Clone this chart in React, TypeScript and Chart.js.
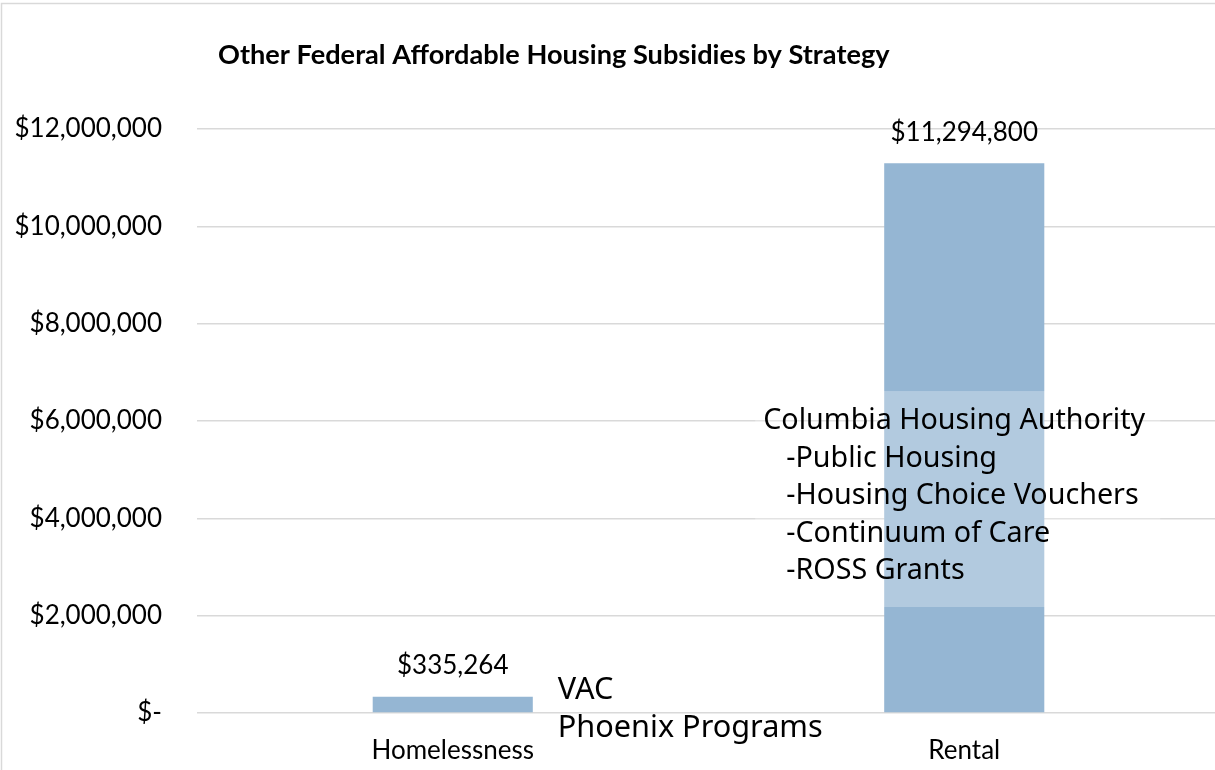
import React, { useEffect, useRef } from "react";
import { Chart, registerables } from "chart.js";

Chart.register(...registerables);

const title = "Other Federal Affordable Housing Subsidies by Strategy";
const categories = ["Homelessness", "Rental"];
const values = [335264, 11294800];
const yMin = 0;
const yMax = 12000000;
const yStep = 2000000;
const rentalNoteLines = [
  "Columbia Housing Authority",
  "-Public Housing",
  "-Housing Choice Vouchers",
  "-Continuum of Care",
  "-ROSS Grants",
];
const rentalNoteTop = 6000000;
const rentalBoxRange = [6616000, 2178000];
const homelessNoteLines = ["VAC", "Phoenix Programs"];

const BAR_COLOR = "rgb(149,182,211)";
const GRID = "#d9d9d9";
const AXIS_FONT = "Lato, 'Liberation Sans', sans-serif";
const NOTE_FONT = "'Noto Sans', 'DejaVu Sans', sans-serif";
const AXIS_SIZE = 26;

function fitSize(ctx: CanvasRenderingContext2D, text: string, weight: string, family: string, target: number) {
  ctx.font = `${weight} 100px ${family}`;
  const w = ctx.measureText(text).width;
  return (100 * target) / w;
}

const fmtMoney = (v: number) => (v === 0 ? "$-" : "$" + Math.round(v).toLocaleString("en-US"));

export default function App() {
  const ref = useRef<HTMLCanvasElement | null>(null);

  useEffect(() => {
    document.body.style.margin = "0";
    const canvas = ref.current!;
    const decor = {
      id: "decor",
      beforeDraw(chart: any) {
        const ctx = chart.ctx;
        ctx.save();
        ctx.fillStyle = "#fff";
        ctx.fillRect(0, 0, chart.width, chart.height);
        ctx.strokeStyle = GRID;
        ctx.lineWidth = 1.5;
        ctx.strokeRect(1.5, 3.5, chart.width + 20, chart.height + 20);
        // title
        const ts = fitSize(ctx, title, "bold", AXIS_FONT, 672);
        ctx.font = `bold ${ts}px ${AXIS_FONT}`;
        ctx.fillStyle = "#000";
        ctx.textBaseline = "middle";
        ctx.textAlign = "left";
        ctx.fillText(title, 218, 55);
        ctx.restore();
      },
      afterDatasetsDraw(chart: any) {
        const ctx = chart.ctx;
        const xs = chart.scales.x;
        const ys = chart.scales.y;
        const meta = chart.getDatasetMeta(0);
        ctx.save();
        // value labels
        ctx.font = `${AXIS_SIZE}px ${AXIS_FONT}`;
        ctx.fillStyle = "#000";
        ctx.textAlign = "center";
        ctx.textBaseline = "middle";
        meta.data.forEach((bar: any, i: number) => {
          ctx.fillText(fmtMoney(values[i]), bar.x, bar.y - 31);
        });
        // rental note box
        const cx = xs.getPixelForValue(1);
        const by0 = ys.getPixelForValue(rentalBoxRange[0]);
        const by1 = ys.getPixelForValue(rentalBoxRange[1]);
        ctx.fillStyle = "rgba(255,255,255,0.28)";
        ctx.fillRect(cx - 209, by0, 405, by1 - by0);
        // rental note text
        const ns = fitSize(ctx, rentalNoteLines[0], "normal", NOTE_FONT, 382);
        ctx.font = `${ns}px ${NOTE_FONT}`;
        ctx.fillStyle = "#000";
        ctx.textAlign = "left";
        const ty = ys.getPixelForValue(rentalNoteTop);
        rentalNoteLines.forEach((t, i) => {
          ctx.fillText(t, i === 0 ? cx - 201 : cx - 178, ty + i * 37.5);
        });
        // homelessness note
        const hs = fitSize(ctx, homelessNoteLines[1], "normal", NOTE_FONT, 265);
        ctx.font = `${hs}px ${NOTE_FONT}`;
        const hx = xs.getPixelForValue(0);
        homelessNoteLines.forEach((t, i) => {
          ctx.fillText(t, hx + 105, ys.getPixelForValue(0) - 23 + i * 38);
        });
        ctx.restore();
      },
    };

    const chart = new Chart(canvas, {
      type: "bar",
      data: {
        labels: categories,
        datasets: [
          {
            data: values,
            backgroundColor: BAR_COLOR,
            borderWidth: 0,
            categoryPercentage: 0.626,
            barPercentage: 0.5,
          },
        ],
      },
      options: {
        responsive: false,
        animation: false,
        devicePixelRatio: 1,
        layout: { padding: { left: 0, right: 5, top: 129, bottom: 0 } },
        plugins: {
          legend: { display: false },
          title: { display: false },
          tooltip: { enabled: false },
        },
        scales: {
          x: {
            grid: { display: false, drawTicks: false },
            border: { display: false },
            ticks: {
              color: "#000",
              font: { family: AXIS_FONT, size: AXIS_SIZE },
              padding: 22,
            },
            afterFit: (s: any) => {
              s.height = 57;
            },
          },
          y: {
            min: yMin,
            max: yMax,
            grid: { color: GRID, lineWidth: 1.5, drawTicks: false },
            border: { display: false },
            ticks: {
              stepSize: yStep,
              color: "#000",
              font: { family: AXIS_FONT, size: AXIS_SIZE },
              padding: 35,
              callback: (v: any) => fmtMoney(Number(v)),
            },
            afterFit: (s: any) => {
              s.width = 197;
            },
          },
        },
      },
      plugins: [decor],
    } as any);
    return () => chart.destroy();
  }, []);

  return (
    <div style={{ width: 1215, height: 770, overflow: "hidden", position: "relative" }}>
      <canvas ref={ref} width={1225} height={770} style={{ display: "block", width: 1225, height: 770 }} />
    </div>
  );
}
